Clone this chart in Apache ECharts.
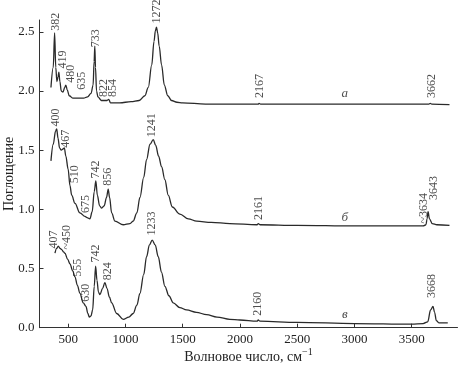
<!DOCTYPE html>
<html><head><meta charset="utf-8">
<script src="https://cdn.jsdelivr.net/npm/echarts@6/dist/echarts.min.js"></script>
<style>html,body{margin:0;padding:0;background:#fff}#c{width:460px;height:367px}</style>
</head><body><div id="c"></div>
<script>
// Curve a
const waveA = [350,370,382,392,402,412,419,428,440,455,470,480,492,510,540,600,635,670,700,718,727,733,739,748,760,790,822,840,854,870,950,1050,1120,1170,1200,1230,1250,1262,1272,1282,1295,1316,1340,1370,1403,1450,1500,1700,2160,2167,2180,3000,3650,3662,3675,3830];
const absA  = [2.03,2.20,2.49,2.20,2.08,2.12,2.16,2.08,2.00,1.99,2.03,2.05,2.01,1.96,1.94,1.94,1.94,1.95,1.98,2.05,2.25,2.38,2.20,2.00,1.95,1.92,1.92,1.92,1.93,1.90,1.90,1.91,1.92,1.96,2.03,2.22,2.42,2.51,2.54,2.49,2.38,2.22,2.05,1.96,1.92,1.905,1.90,1.89,1.89,1.895,1.89,1.89,1.89,1.895,1.89,1.885];
// Curve б
const waveB = [350,370,390,400,412,425,440,455,467,480,500,516,531,560,603,647,665,690,710,728,742,755,775,793,815,835,850,862,880,909,981,1040,1068,1100,1127,1160,1185,1215,1243,1265,1290,1316,1345,1374,1410,1476,1550,1622,1750,1912,2150,2161,2175,2500,3000,3600,3625,3634,3643,3655,3680,3720,3830];
const absB  = [1.41,1.55,1.66,1.68,1.60,1.52,1.50,1.51,1.52,1.45,1.34,1.20,1.12,1.05,0.97,0.94,0.93,0.92,0.98,1.15,1.24,1.12,1.03,1.01,1.03,1.10,1.17,1.10,0.97,0.90,0.87,0.88,0.90,0.97,1.10,1.27,1.42,1.55,1.59,1.54,1.45,1.36,1.25,1.12,1.02,0.96,0.92,0.90,0.89,0.88,0.87,0.88,0.87,0.865,0.86,0.86,0.87,0.92,0.98,0.92,0.88,0.87,0.865];
// Curve в
const waveC = [385,400,414,430,444,460,472,495,516,540,560,580,603,632,656,672,685,700,714,728,740,752,765,778,800,821,840,860,880,924,981,1030,1068,1100,1127,1160,1185,1210,1234,1260,1287,1315,1345,1380,1418,1475,1534,1620,1709,1800,1912,2000,2150,2160,2175,2500,3000,3500,3600,3640,3665,3686,3700,3715,3740,3815];
const absC  = [0.63,0.67,0.69,0.67,0.66,0.64,0.63,0.58,0.54,0.48,0.43,0.36,0.29,0.21,0.18,0.12,0.09,0.10,0.15,0.35,0.52,0.40,0.30,0.28,0.33,0.38,0.33,0.26,0.21,0.12,0.07,0.09,0.12,0.19,0.29,0.45,0.60,0.70,0.74,0.70,0.60,0.47,0.35,0.27,0.21,0.17,0.15,0.13,0.11,0.09,0.07,0.065,0.055,0.065,0.055,0.045,0.035,0.03,0.035,0.05,0.15,0.18,0.13,0.06,0.04,0.04];

const xTicks = [500,1000,1500,2000,2500,3000,3500];
const yTicks = [0,0.5,1.0,1.5,2.0,2.5];

// peak annotations: [text, wavenumber anchor, absorbance anchor]
const peaksA = [["382",394,2.51],["419",457,2.19],["480",525,2.07],["635",618,2.01],["733",740,2.37],["822",813,1.95],["854",892,1.95],["1272",1278,2.57],["2167",2174,1.94],["3662",3672,1.94]];
const peaksB = [["400",394,1.70],["467",479,1.52],["510",560,1.22],["675",656,0.97],["742",740,1.26],["856",850,1.20],["1241",1229,1.61],["2161",2168,0.91],["~3634",3608,0.88],["3643",3695,1.08]];
const peaksC = [["407",379,0.67],["~450",487,0.66],["555",589,0.43],["630",656,0.22],["742",740,0.55],["824",845,0.40],["1233",1234,0.78],["2160",2154,0.10],["3668",3678,0.25]];
const curveNames = [["а",2916,1.98],["б",2916,0.93],["в",2916,0.11]];

const FONT = '"Liberation Serif","DejaVu Serif",serif';
const zip = (w,a)=>w.map((x,i)=>[x,a[i]]);
function lineSeries(w,a){
  return {type:'line',data:zip(w,a),showSymbol:false,smooth:0.35,smoothMonotone:'x',
    lineStyle:{color:'#2a2a2a',width:1.3},silent:true,z:2};
}
function peakSeries(p){
  return {type:'scatter',symbolSize:0,silent:true,z:3,
    data:p.map(d=>({value:[d[1],d[2]],name:d[0]})),
    label:{show:true,formatter:q=>q.name,rotate:90,position:[0,0],align:'left',verticalAlign:'middle',
      fontFamily:FONT,fontSize:12,color:'#222'}};
}
const chart = echarts.init(document.getElementById('c'));
chart.setOption({
  animation:false,
  grid:{left:39.5,top:20,right:2.5,bottom:39.3,containLabel:false,outerBoundsMode:'none'},
  xAxis:{type:'value',min:250,max:3900,
    name:'Волновое число, см{sup|−1}',nameLocation:'middle',nameGap:20,nameMoveOverlap:false,
    nameTextStyle:{fontFamily:FONT,fontSize:14,color:'#222',rich:{sup:{fontFamily:FONT,fontSize:10,color:'#222',verticalAlign:'bottom',padding:[0,0,9,0]}}},
    axisLine:{lineStyle:{color:'#333',width:1}},
    axisTick:{inside:true,length:4,customValues:xTicks,lineStyle:{color:'#333'}},
    axisLabel:{customValues:xTicks,formatter:v=>String(v),fontFamily:FONT,fontSize:13,color:'#222',margin:5},
    splitLine:{show:false}},
  yAxis:{type:'value',min:0,max:2.6,
    name:'Поглощение',nameLocation:'middle',nameGap:23,nameMoveOverlap:false,
    nameTextStyle:{fontFamily:FONT,fontSize:14,color:'#222'},
    axisLine:{show:true,lineStyle:{color:'#333',width:1}},
    axisTick:{show:true,inside:true,length:4,customValues:yTicks,lineStyle:{color:'#333'}},
    axisLabel:{customValues:yTicks,formatter:v=>v.toFixed(1),fontFamily:FONT,fontSize:13,color:'#222',margin:5},
    splitLine:{show:false}},
  series:[
    lineSeries(waveA,absA),lineSeries(waveB,absB),lineSeries(waveC,absC),
    peakSeries(peaksA),peakSeries(peaksB),peakSeries(peaksC),
    {type:'scatter',symbolSize:0,silent:true,z:3,
     data:curveNames.map(d=>({value:[d[1],d[2]],name:d[0]})),
     label:{show:true,formatter:q=>q.name,position:[0,0],align:'center',verticalAlign:'middle',
       fontFamily:FONT,fontSize:13,fontStyle:'italic',color:'#222'}}
  ]
});
</script></body></html>
